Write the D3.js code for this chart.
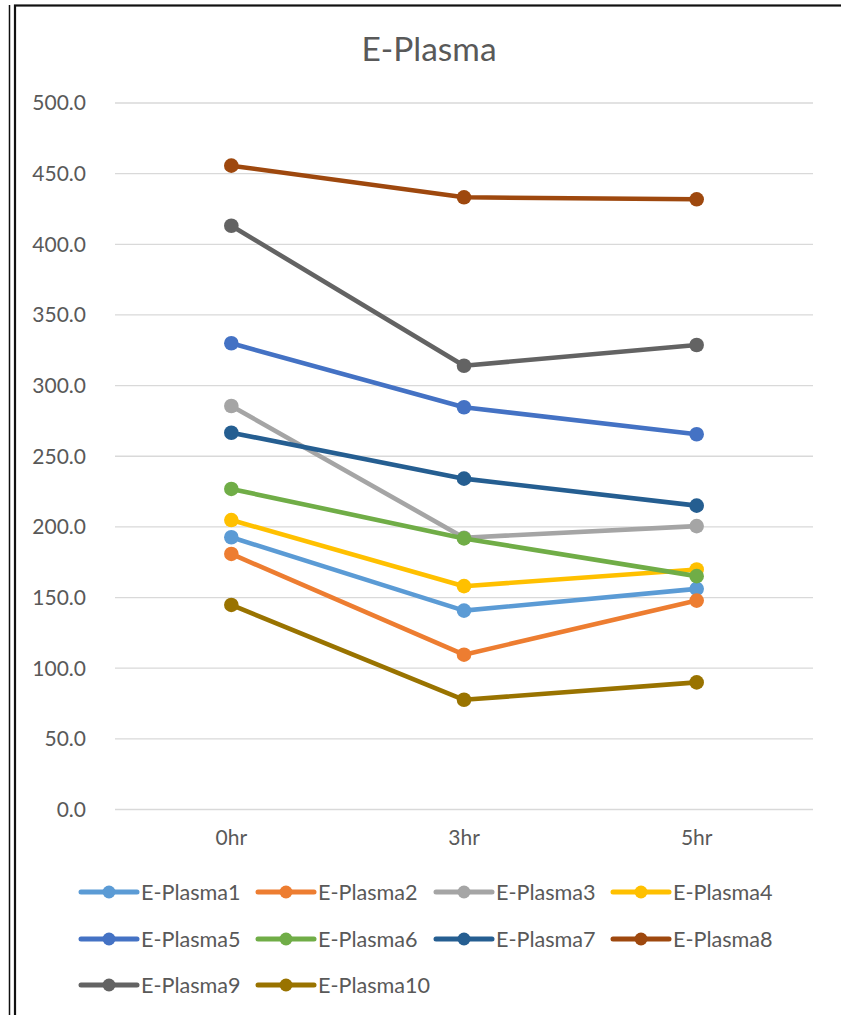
<!DOCTYPE html>
<html><head><meta charset="utf-8">
<script src="https://cdn.jsdelivr.net/npm/d3@7"></script>
<style>
html,body{margin:0;padding:0;background:#fff;}
svg{display:block;}
text{font-family:Lato,"Noto Sans",sans-serif;fill:#595959;}
</style></head>
<body>
<svg id="c" width="841" height="1015"></svg>
<script>
const categories = ["0hr","3hr","5hr"];
const seriesNames = ["E-Plasma1","E-Plasma2","E-Plasma3","E-Plasma4","E-Plasma5","E-Plasma6","E-Plasma7","E-Plasma8","E-Plasma9","E-Plasma10"];
const plasma1 = [192.3,140.4,155.8];
const plasma2 = [180.5,109.2,147.5];
const plasma3 = [285.2,192.0,200.2];
const plasma4 = [204.5,157.7,169.5];
const plasma5 = [329.6,284.3,265.2];
const plasma6 = [226.5,191.5,164.8];
const plasma7 = [266.3,233.8,214.7];
const plasma8 = [455.3,432.9,431.5];
const plasma9 = [412.8,313.7,328.4];
const plasma10 = [144.4,77.3,89.6];
const seriesValues = [plasma1,plasma2,plasma3,plasma4,plasma5,plasma6,plasma7,plasma8,plasma9,plasma10];
const colors = ["#5B9BD5","#ED7D31","#A5A5A5","#FFC000","#4472C4","#70AD47","#255E91","#9E480E","#636363","#997300"];
const yTicks = [0,50,100,150,200,250,300,350,400,450,500];
const chartTitle = "E-Plasma";

const svg = d3.select("#c");
// frame
svg.append("line").attr("x1",9.5).attr("x2",9.5).attr("y1",5).attr("y2",1015).attr("stroke","#111").attr("stroke-width",1.5);
svg.append("rect").attr("x",15).attr("y",5.5).attr("width",840).attr("height",1020)
  .attr("fill","#fff").attr("stroke","#111").attr("stroke-width",2.2);

const x = d3.scaleBand().domain(categories).range([115,813]).padding(0);
const y = d3.scaleLinear().domain([0,500]).range([809,102.5]);

// gridlines
const yAxis = d3.axisLeft(y).tickValues(yTicks).tickFormat(d3.format(".1f")).tickSize(-(813-115)).tickPadding(29);
const ga = svg.append("g").attr("transform","translate(115,0)").call(yAxis);
ga.select(".domain").remove();
ga.selectAll(".tick line").attr("stroke","#d9d9d9").attr("stroke-width",1.3);
ga.selectAll(".tick text").attr("font-size",21).attr("font-family","Lato").attr("fill","#595959").attr("dy","0.35em");

const xAxis = d3.axisBottom(x).tickSize(0).tickPadding(21);
const gx = svg.append("g").attr("transform","translate(0,809)").call(xAxis);
gx.select(".domain").remove();
gx.selectAll(".tick text").attr("font-size",21).attr("font-family","Lato").attr("fill","#595959");

// title
svg.append("text").attr("x",429).attr("y",61).attr("text-anchor","middle").attr("font-size",33.5).text(chartTitle);

const line = d3.line().x((d,i)=>x(categories[i])+x.bandwidth()/2).y(d=>y(d));
seriesValues.forEach((vals,si)=>{
  const g = svg.append("g");
  g.append("path").datum(vals).attr("d",line).attr("fill","none").attr("stroke",colors[si])
    .attr("stroke-width",4.6).attr("stroke-linejoin","round").attr("stroke-linecap","round");
  g.selectAll("circle").data(vals).join("circle")
    .attr("cx",(d,i)=>x(categories[i])+x.bandwidth()/2).attr("cy",d=>y(d)).attr("r",7.3).attr("fill",colors[si]);
});

// legend
const colX = [81,258,436,613];
const rowY = [892,939,985];
seriesNames.forEach((name,i)=>{
  const cx = colX[i%4], cy = rowY[Math.floor(i/4)];
  const g = svg.append("g");
  g.append("line").attr("x1",cx).attr("x2",cx+56).attr("y1",cy).attr("y2",cy)
    .attr("stroke",colors[i]).attr("stroke-width",5).attr("stroke-linecap","round");
  g.append("circle").attr("cx",cx+28).attr("cy",cy).attr("r",6.5).attr("fill",colors[i]);
  g.append("text").attr("x",cx+60).attr("y",cy).attr("dy","0.36em").attr("font-size",21.6).text(name);
});
</script>
</body></html>
